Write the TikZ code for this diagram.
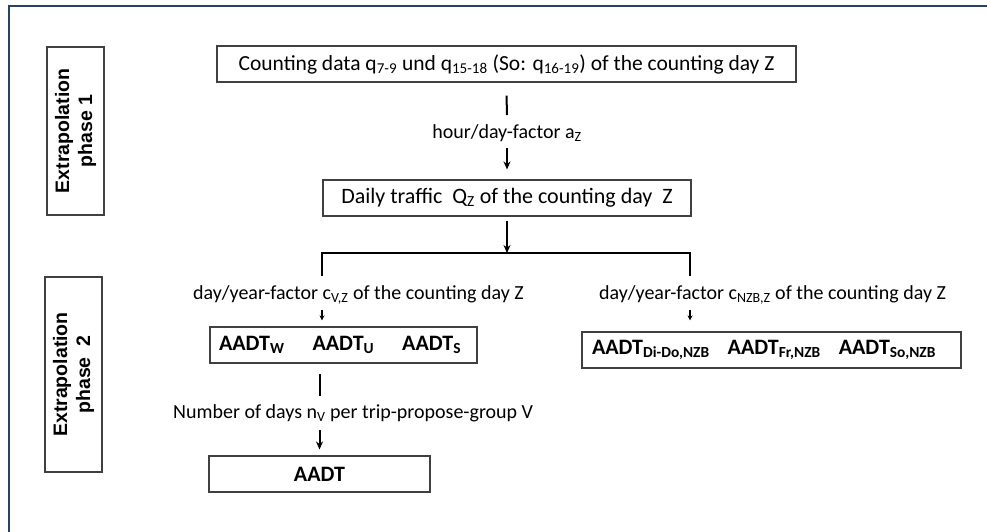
\documentclass[tikz,border=0pt]{standalone}
\usepackage{fontspec}
\setmainfont{Carlito}
\newfontfamily\phasefont{Liberation Sans}
\usetikzlibrary{arrows.meta}
\definecolor{framecol}{RGB}{41,64,104}
\definecolor{boxline}{RGB}{64,64,64}
\tikzset{
 box/.style={draw=boxline, line width=1.1pt, inner sep=0pt, minimum height=36pt, font=\fontsize{22}{26}\selectfont},
 bbox/.style={box, font=\fontsize{22}{26}\selectfont\bfseries},
 lbl/.style={inner sep=0pt, font=\fontsize{20}{24}\selectfont},
 phasebox/.style={draw=boxline, line width=1.1pt, inner sep=0pt, align=center, font=\phasefont\fontsize{19.5}{23}\selectfont\bfseries},
 conn/.style={line width=2pt},
 arr/.style={line width=2pt, -{Stealth[length=8pt,width=7pt]}},
 sarr/.style={line width=1.3pt, -{Stealth[length=5pt,width=5pt]}},
}
\begin{document}
\begin{tikzpicture}[x=1pt,y=-1pt]
\useasboundingbox (0,0) rectangle (987,532);
\draw[framecol, line width=1.2pt] (9,532) -- (9,6) -- (987,6);

\node[phasebox, rotate=90, minimum width=168pt, minimum height=57pt] (ph1) at (75.5,131) {Extrapolation\\phase 1};
\node[phasebox, rotate=90, minimum width=195pt, minimum height=57pt] (ph2) at (73.5,374.5) {Extrapolation\\phase\ \ 2};

\node[box, minimum width=579pt, font=\fontsize{21.5}{26}\selectfont] (count) at (506.5,64) {Counting data q\textsubscript{7-9} und q\textsubscript{15-18} (So: q\textsubscript{16-19}) of the counting day Z};
\node[lbl] (hz) at (507,133) {hour/day-factor a\textsubscript{Z}};
\node[box, minimum width=368pt] (daily) at (507,198) {Daily traffic\ \ Q\textsubscript{Z} of the counting day\ \ Z};
\draw[conn] ([yshift=-13pt]count.south) -- ([yshift=18pt]hz.center);
\draw[arr] ([yshift=-15pt]hz.center) -- ([yshift=10pt]daily.north);

\coordinate (bc) at (507,253);
\coordinate (bl) at (322,253);
\coordinate (br) at (690,253);
\draw[arr] ([yshift=-4pt]daily.south) -- (bc);
\draw[line width=2.4pt] ([yshift=-23pt]bl) -- (bl) -- (br) -- ([yshift=-23pt]br);

\node[lbl, anchor=west] (lvz) at (193,295) {day/year-factor c\textsubscript{V,Z} of the counting day Z};
\node[bbox, inner xsep=9pt, text width=249pt, align=left] (lbox) at (343.5,345) {AADT\textsubscript{W}\hspace{28pt}AADT\textsubscript{U}\hspace{28pt}AADT\textsubscript{S}};
\coordinate (la) at (322,310);
\draw[sarr] (la) -- ([yshift=6pt]la |- lbox.north);

\node[lbl, anchor=west] (nv) at (173,413) {Number of days n\textsubscript{V} per trip-propose-group V};
\node[bbox, minimum width=221pt] (aadt) at (319.5,474) {AADT};
\coordinate (l1) at (319.5,374);
\draw[conn] (l1) -- ++(0,22);
\coordinate (l2) at (319.5,430);
\draw[arr] (l2) -- ([yshift=6pt]aadt.north);

\node[lbl, anchor=west] (rnzb) at (599,295) {day/year-factor c\textsubscript{NZB,Z} of the counting day Z};
\node[bbox, inner xsep=10pt, text width=359pt, align=left] (rbox) at (771.5,350) {AADT\textsubscript{Di-Do,NZB}\hspace{18pt}AADT\textsubscript{Fr,NZB}\hspace{18pt}AADT\textsubscript{So,NZB}};
\coordinate (ra) at (690,310);
\draw[sarr] (ra) -- ([yshift=11pt]ra |- rbox.north);
\end{tikzpicture}
\end{document}
